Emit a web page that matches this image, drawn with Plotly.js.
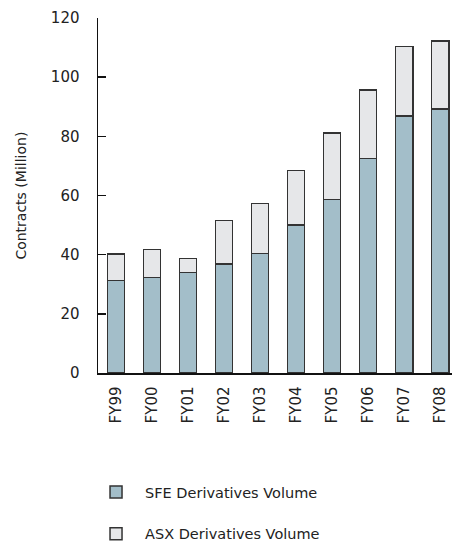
<!DOCTYPE html>
<html>
<head>
<meta charset="utf-8">
<script src="https://cdn.plot.ly/plotly-3.0.1.min.js"></script>
<style>html,body{margin:0;padding:0;background:#fff;}#chart{width:452px;height:544px;}</style>
</head>
<body>
<div id="chart"></div>
<script>
const years = ["FY99","FY00","FY01","FY02","FY03","FY04","FY05","FY06","FY07","FY08"];
const sfeVolume = [31.3, 32.2, 33.9, 36.8, 40.4, 50.0, 58.6, 72.5, 86.8, 89.2];
const asxVolume = [8.9, 9.5, 4.8, 14.8, 16.9, 18.5, 22.6, 23.1, 23.5, 23.0];
const yTicks = [0, 20, 40, 60, 80, 100, 120];

const sfeColor = "#a3bec9";
const asxColor = "#e6e7e9";
const edge = {color: "#333333", width: 1.5};
const font = "'DejaVu Sans', sans-serif";

const traces = [
  {type: "bar", name: "SFE Derivatives Volume", x: years, y: sfeVolume, legendgroup: "a",
   marker: {color: sfeColor, line: edge}, width: 0.48},
  {type: "bar", name: "ASX Derivatives Volume", x: years, y: asxVolume, legendgroup: "b",
   marker: {color: asxColor, line: edge}, width: 0.48}
];

const layout = {
  width: 452, height: 544,
  margin: {l: 98, r: 0, t: 18, b: 171, autoexpand: false},
  barmode: "stack",
  paper_bgcolor: "#fff", plot_bgcolor: "#fff",
  font: {family: font, size: 13, color: "#222"},
  showlegend: true,
  legend: {x: -0.031, xanchor: "left", y: -0.29, yanchor: "top",
           traceorder: "grouped", font: {size: 14.5, color: "#222"}, tracegroupgap: 20,
           bgcolor: "rgba(0,0,0,0)", itemwidth: 48},
  xaxis: {
    type: "category", range: [-0.5, 9.33],
    showline: true, linecolor: "#111", linewidth: 1.5,
    ticks: "", tickangle: -90, showgrid: false, zeroline: false,
    ticklabelstandoff: 6, tickfont: {size: 15, color: "#222"}
  },
  yaxis: {
    range: [0, 120], tickvals: yTicks, ticktext: yTicks.map(String),
    showline: true, linecolor: "#111", linewidth: 1.5,
    ticks: "inside", ticklen: 8, tickwidth: 1.5, tickcolor: "#111",
    showgrid: false, zeroline: false, ticklabelstandoff: 14,
    tickfont: {size: 15, color: "#222"}
  },
  annotations: [{
    text: "Contracts (Million)", xref: "paper", yref: "paper",
    x: -0.22, y: 0.5, xanchor: "center", yanchor: "middle",
    textangle: -90, showarrow: false, font: {size: 14, color: "#222"}
  }]
};

Plotly.newPlot("chart", traces, layout, {displayModeBar: false, staticPlot: true});
</script>
</body>
</html>
